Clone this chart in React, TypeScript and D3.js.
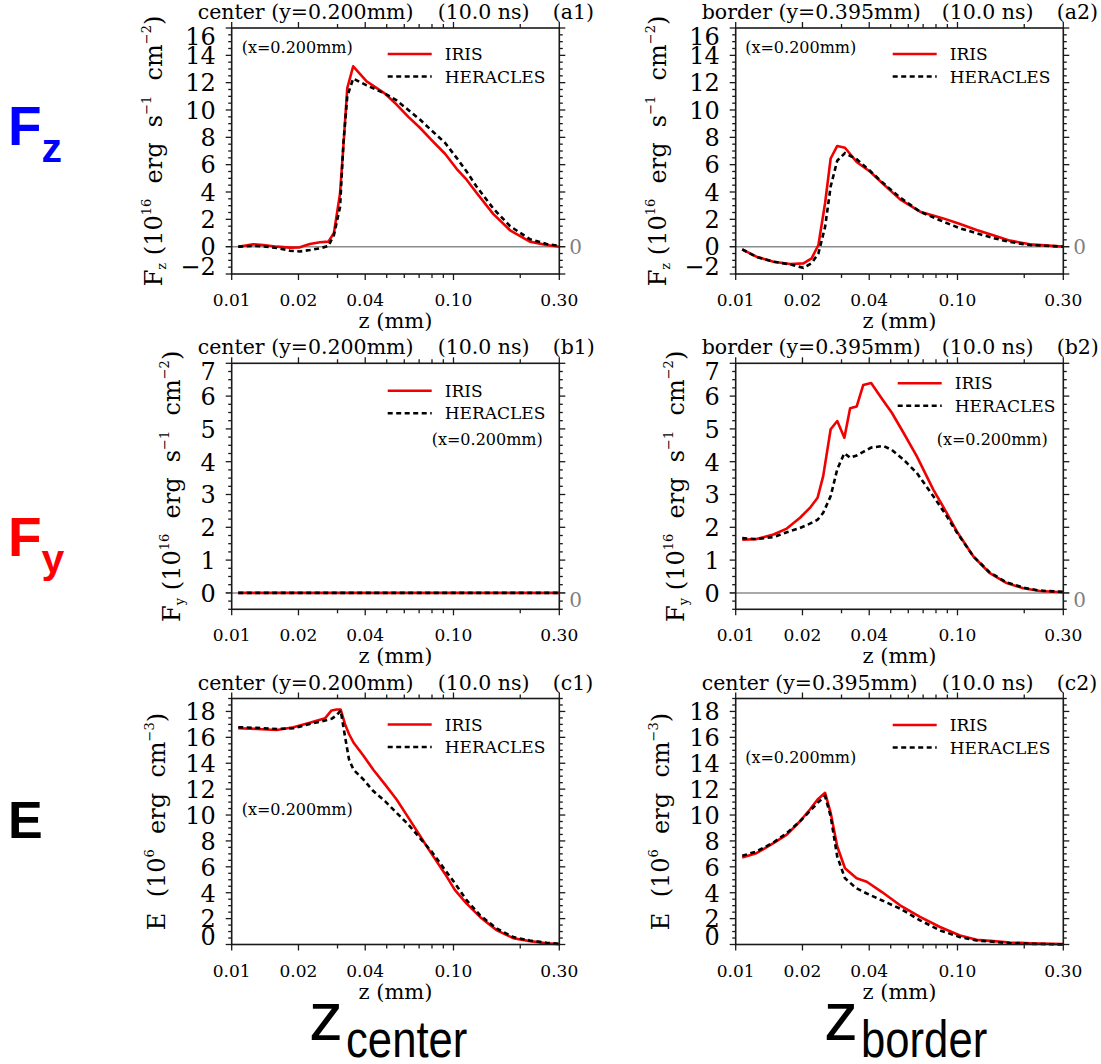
import React from 'react';
import * as d3 from 'd3';

// ---------- data ----------
const zFzCenter = [0.0107,0.0125,0.0139,0.0160,0.0183,0.0203,0.0225,0.0250,0.0273,0.0289,0.0308,0.0319,0.0332,0.0353,0.0406,0.0491,0.0554,0.0626,0.0706,0.0797,0.0916,0.1033,0.1146,0.127,0.151,0.180,0.221,0.263,0.30];
const fzCenterIris = [0,0.17,0.12,0,-0.07,-0.05,0.2,0.32,0.37,1.0,3.9,7.4,11.6,13.2,12.1,11.2,10.4,9.5,8.7,7.8,6.8,5.7,4.9,3.95,2.4,1.2,0.37,0.12,0];
const fzCenterHeracles = [0,0.05,0.02,-0.1,-0.3,-0.35,-0.25,-0.12,0.05,0.85,2.9,7.6,11.0,12.3,11.8,11.2,10.7,10.0,9.3,8.5,7.6,6.5,5.5,4.4,2.8,1.5,0.55,0.2,0.05];

const zFzBorder = [0.0107,0.0124,0.0148,0.0176,0.0202,0.0220,0.0236,0.0253,0.0268,0.0287,0.0311,0.0351,0.0403,0.0455,0.0551,0.0678,0.0863,0.1027,0.122,0.145,0.1725,0.212,0.30];
const fzBorderIris = [-0.2,-0.73,-1.1,-1.27,-1.22,-0.85,0.12,3.2,6.45,7.37,7.24,6.2,5.5,4.7,3.46,2.56,2.07,1.66,1.22,0.83,0.44,0.17,0];
const fzBorderHeracles = [-0.2,-0.75,-1.1,-1.3,-1.55,-1.2,-0.5,1.45,4.4,6.3,6.85,6.4,5.55,4.75,3.6,2.56,1.83,1.34,0.98,0.63,0.34,0.12,0];

const zFyCenter = [0.0107,0.02,0.05,0.1,0.30];
const fyCenterIris = [0,0,0,0,0];
const fyCenterHeracles = [0,0,0,0,0];

const zFyBorder = [0.0107,0.0124,0.0148,0.0170,0.0195,0.0216,0.0234,0.0248,0.0268,0.0287,0.0309,0.0328,0.0351,0.0376,0.0408,0.0463,0.0505,0.057,0.0655,0.0778,0.0894,0.0992,0.118,0.140,0.1666,0.198,0.235,0.30];
const fyBorderIris = [1.62,1.64,1.78,1.96,2.29,2.59,2.9,3.56,4.99,5.24,4.73,5.63,5.68,6.34,6.4,5.86,5.5,4.89,4.17,3.15,2.44,1.88,1.11,0.6,0.3,0.14,0.06,0.02];
const fyBorderHeracles = [1.67,1.64,1.70,1.85,1.98,2.11,2.23,2.44,2.95,3.77,4.26,4.12,4.19,4.3,4.43,4.48,4.36,4.07,3.66,2.95,2.34,1.85,1.11,0.62,0.32,0.16,0.07,0.03];

const zECenter = [0.0107,0.013,0.016,0.019,0.0225,0.0264,0.0282,0.0297,0.031,0.0324,0.0338,0.0354,0.0392,0.0435,0.0491,0.0554,0.0626,0.0706,0.0797,0.0916,0.1016,0.1146,0.1317,0.157,0.186,0.221,0.263,0.30];
const eCenterIris = [16.7,16.65,16.57,16.78,17.12,17.48,18.08,18.15,18.15,17.04,16.26,15.6,14.6,13.5,12.37,11.2,9.8,8.4,7.0,5.45,4.2,3.16,2.13,1.09,0.49,0.26,0.1,0.03];
const eCenterHeracles = [16.78,16.73,16.65,16.7,17.04,17.3,17.43,17.7,18.08,16.1,14.3,13.5,12.76,11.85,11.07,10.17,9.26,8.22,7.18,5.76,4.72,3.42,2.26,1.22,0.57,0.31,0.13,0.05];

const zEBorder = [0.0107,0.0124,0.0148,0.0170,0.0195,0.0216,0.0234,0.0253,0.0268,0.0287,0.0311,0.0351,0.039,0.0455,0.0551,0.0678,0.0834,0.1027,0.122,0.145,0.1725,0.212,0.30];
const eBorderIris = [6.72,7.05,7.83,8.48,9.52,10.43,11.2,11.72,10.17,7.57,5.89,5.11,4.85,4.07,3.03,2.13,1.35,0.7,0.36,0.26,0.16,0.1,0.03];
const eBorderHeracles = [6.85,7.18,7.88,8.61,9.52,10.3,10.94,11.46,9.9,6.79,5.11,4.33,3.94,3.42,2.77,1.87,1.09,0.57,0.31,0.21,0.1,0.05,0];

const xTickValues = [0.01,0.02,0.03,0.04,0.05,0.06,0.07,0.08,0.09,0.1,0.2,0.3];
const xTickLabelValues = [0.01,0.02,0.04,0.10,0.30];
const xTickLabels = ['0.01','0.02','0.04','0.10','0.30'];

const titles = [
  ['center (y=0.200mm)', '(10.0 ns)', '(a1)'],
  ['border (y=0.395mm)', '(10.0 ns)', '(a2)'],
  ['center (y=0.200mm)', '(10.0 ns)', '(b1)'],
  ['border (y=0.395mm)', '(10.0 ns)', '(b2)'],
  ['center (y=0.200mm)', '(10.0 ns)', '(c1)'],
  ['center (y=0.395mm)', '(10.0 ns)', '(c2)'],
];
const seriesNames = ['IRIS', 'HERACLES'];
const noteText = '(x=0.200mm)';

// ---------- layout ----------
const SERIF = "'DejaVu Serif', 'Liberation Serif', serif";
const PW = 327.6;
const PH = 246;
const colLeft = [231.7, 735.7];
const rowTop = [28, 363.3, 698.5];

type RowSpec = { domain: [number, number]; major: number; minor: number; kind: 'Fz' | 'Fy' | 'E'; zeroLabel: boolean; zeroDy: number; ylabOff: number };
const rows: RowSpec[] = [
  { domain: [-2, 16], major: 2, minor: 0.5, kind: 'Fz', zeroLabel: true, zeroDy: 7, ylabOff: -70 },
  { domain: [-0.5, 7], major: 1, minor: 0.25, kind: 'Fy', zeroLabel: true, zeroDy: 14, ylabOff: -52 },
  { domain: [0, 19], major: 2, minor: 0.5, kind: 'E', zeroLabel: false, zeroDy: 0, ylabOff: -67 },
];

type PanelSpec = {
  row: number; col: number; z: number[]; iris: number[]; her: number[];
  legend: [number, number]; note: [number, number];
};
const panels: PanelSpec[] = [
  { row: 0, col: 0, z: zFzCenter, iris: fzCenterIris, her: fzCenterHeracles, legend: [156, 26], note: [10, 25] },
  { row: 0, col: 1, z: zFzBorder, iris: fzBorderIris, her: fzBorderHeracles, legend: [157, 26], note: [9.5, 25] },
  { row: 1, col: 0, z: zFyCenter, iris: fyCenterIris, her: fyCenterHeracles, legend: [156, 27.5], note: [200, 82] },
  { row: 1, col: 1, z: zFyBorder, iris: fyBorderIris, her: fyBorderHeracles, legend: [162, 20], note: [201, 82] },
  { row: 2, col: 0, z: zECenter, iris: eCenterIris, her: eCenterHeracles, legend: [156, 26], note: [10, 116] },
  { row: 2, col: 1, z: zEBorder, iris: eBorderIris, her: eBorderHeracles, legend: [157, 26.5], note: [9.5, 64] },
];

function range(a: number, b: number, s: number) {
  const out: number[] = [];
  const n = Math.round((b - a) / s);
  for (let i = 0; i <= n; i++) out.push(+(a + i * s).toFixed(4));
  return out;
}

function YLabel({ kind, x, y }: { kind: string; x: number; y: number }) {
  const fs = 24;
  const sm = 13;
  const content = kind === 'E' ? (
    <>
      <tspan>E  (10</tspan>
      <tspan fontSize={sm} dy={-11}>6</tspan>
      <tspan dy={11}>  erg  cm</tspan>
      <tspan fontSize={sm} dy={-11}>−3</tspan>
      <tspan dy={11}>)</tspan>
    </>
  ) : (
    <>
      <tspan>F</tspan>
      <tspan fontSize={sm} dy={4}>{kind === 'Fz' ? 'z' : 'y'}</tspan>
      <tspan dy={-4}> (10</tspan>
      <tspan fontSize={sm} dy={-11}>16</tspan>
      <tspan dy={11}>  erg  s</tspan>
      <tspan fontSize={sm} dy={-11}>−1</tspan>
      <tspan dy={11}>  cm</tspan>
      <tspan fontSize={sm} dy={-11}>−2</tspan>
      <tspan dy={11}>)</tspan>
    </>
  );
  return (
    <text transform={`translate(${x},${y}) rotate(-90)`} textAnchor="middle" fontFamily={SERIF} fontSize={fs} style={{ whiteSpace: 'pre' }}>
      {content}
    </text>
  );
}

function Panel({ spec, idx }: { spec: PanelSpec; idx: number }) {
  const r = rows[spec.row];
  const left = colLeft[spec.col];
  const top = rowTop[spec.row];
  const x = d3.scaleLog().domain([0.01, 0.3]).range([left, left + PW]);
  const y = d3.scaleLinear().domain(r.domain).range([top + PH, top]);
  const right = left + PW;
  const bottom = top + PH;
  const line = d3.line<number>().x((_, i) => x(spec.z[i])).y((d) => y(d));
  const majors = range(Math.ceil(r.domain[0] / r.major) * r.major, Math.floor(r.domain[1] / r.major) * r.major, r.major);
  const minors = range(r.domain[0], r.domain[1], r.minor);
  const t = titles[idx];
  const [lx, ly] = spec.legend;
  const axisColor = '#1a1a1a';
  const labelFor = (v: number) => (v < 0 ? '−' + Math.abs(v) : String(v));
  return (
    <g>
      {r.domain[0] < 0 && (
        <line x1={left - 6} x2={right + 6} y1={y(0)} y2={y(0)} stroke="#8c8c8c" strokeWidth={1.5} />
      )}
      <path d={line(spec.iris) || ''} fill="none" stroke="#f00000" strokeWidth={2.6} strokeLinejoin="round" />
      <path d={line(spec.her) || ''} fill="none" stroke="#000" strokeWidth={2.6} strokeDasharray="5,3.5" />
      <rect x={left} y={top} width={PW} height={PH} fill="none" stroke={axisColor} strokeWidth={1.6} />
      {xTickValues.map((v) => {
        const lab = xTickLabelValues.some((l) => Math.abs(l - v) < 1e-9);
        const len = lab ? 6 : 4;
        return (
          <g key={'xt' + v}>
            <line x1={x(v)} x2={x(v)} y1={bottom} y2={bottom + len} stroke={axisColor} strokeWidth={1.3} />
            <line x1={x(v)} x2={x(v)} y1={top} y2={top - len} stroke={axisColor} strokeWidth={1.3} />
          </g>
        );
      })}
      {xTickLabelValues.map((v, i) => (
        <text key={'xl' + v} x={x(v)} y={bottom + 32} textAnchor="middle" fontFamily={SERIF} fontSize={17}>
          {xTickLabels[i]}
        </text>
      ))}
      <text x={(left + right) / 2} y={bottom + 54} textAnchor="middle" fontFamily={SERIF} fontSize={21} style={{ whiteSpace: 'pre' }}>
        z (mm)
      </text>
      {minors.map((v) => {
        const isMajor = majors.some((m) => Math.abs(m - v) < 1e-6);
        const len = isMajor ? 6 : 3.5;
        return (
          <g key={'yt' + v}>
            <line x1={left} x2={left - len} y1={y(v)} y2={y(v)} stroke={axisColor} strokeWidth={1.3} />
            <line x1={right} x2={right + len} y1={y(v)} y2={y(v)} stroke={axisColor} strokeWidth={1.3} />
          </g>
        );
      })}
      {majors.map((v) => {
        let dy = 8.8;
        if (Math.abs(v - r.domain[1]) < 1e-6 || r.domain[1] - v < r.major * 0.3) dy += 8;
        if (Math.abs(v - r.domain[0]) < 1e-6) dy -= 8;
        return (
          <text key={'yl' + v} x={left - 16} y={y(v) + dy} textAnchor="end" fontFamily={SERIF} fontSize={24}>
            {labelFor(v)}
          </text>
        );
      })}
      {r.zeroLabel && (
        <text x={right + 10} y={y(0) + r.zeroDy} fontFamily={SERIF} fontSize={20} fill="#808080">0</text>
      )}
      <YLabel kind={r.kind} x={left + r.ylabOff} y={(top + bottom) / 2} />
      <text x={left - 34} y={top - 9} fontFamily={SERIF} fontSize={20.5}>{t[0]}</text>
      <text x={left + 206} y={top - 9} fontFamily={SERIF} fontSize={20.5}>{t[1]}</text>
      <text x={left + 321} y={top - 9} fontFamily={SERIF} fontSize={20.5}>{t[2]}</text>
      <line x1={left + lx} x2={left + lx + 44} y1={top + ly} y2={top + ly} stroke="#f00000" strokeWidth={2.6} />
      <text x={left + lx + 57} y={top + ly + 6} fontFamily={SERIF} fontSize={17}>{seriesNames[0]}</text>
      <line x1={left + lx} x2={left + lx + 44} y1={top + ly + 22.5} y2={top + ly + 22.5} stroke="#000" strokeWidth={2.6} strokeDasharray="5,3.5" />
      <text x={left + lx + 57} y={top + ly + 28.5} fontFamily={SERIF} fontSize={17}>{seriesNames[1]}</text>
      <text x={left + spec.note[0]} y={top + spec.note[1]} fontFamily={SERIF} fontSize={16}>{noteText}</text>
    </g>
  );
}

export default function App() {
  const SANS = "'Liberation Sans', Arial, sans-serif";
  return (
    <svg width={1101} height={1064} style={{ position: 'absolute', left: 0, top: 0, background: '#fff' }}>
      <rect width={1101} height={1064} fill="#fff" />
      {panels.map((p, i) => (
        <Panel key={i} spec={p} idx={i} />
      ))}
      <text x={8} y={145} fontFamily={SANS} fontWeight="bold" fontSize={55} fill="#0000ff">
        F<tspan fontSize={41} dy={17}>z</tspan>
      </text>
      <text x={8} y={556} fontFamily={SANS} fontWeight="bold" fontSize={55} fill="#ff0000">
        F<tspan fontSize={41} dy={17}>y</tspan>
      </text>
      <text x={8} y={838} fontFamily={SANS} fontWeight="bold" fontSize={52} fill="#000">E</text>
      <text x={309} y={1040} fontFamily={SANS} fontSize={68}>z</text>
      <text transform="translate(346,1057) scale(0.84,1)" fontFamily={SANS} fontSize={52}>center</text>
      <text x={824} y={1040} fontFamily={SANS} fontSize={68}>z</text>
      <text transform="translate(861,1057) scale(0.84,1)" fontFamily={SANS} fontSize={52}>border</text>
    </svg>
  );
}
